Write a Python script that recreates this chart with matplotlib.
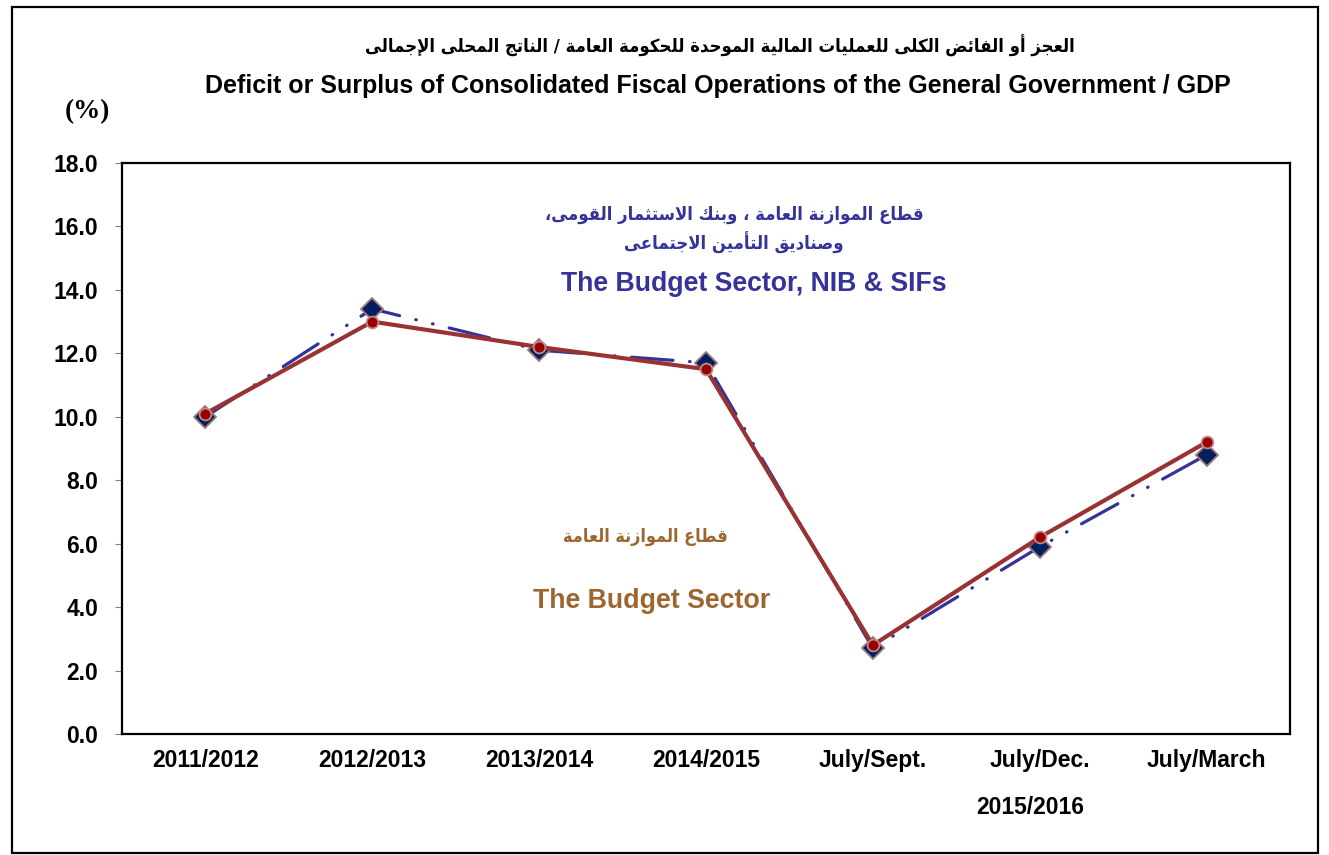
import numpy as np
import matplotlib
matplotlib.use("Agg")
import matplotlib.pyplot as plt
from matplotlib.patches import Rectangle

# Data
categories = ["2011/2012", "2012/2013", "2013/2014", "2014/2015",
              "July/Sept.", "July/Dec.", "July/March"]
budget_nib_sifs = [10.0, 13.4, 12.1, 11.7, 2.7, 5.9, 8.8]
budget_sector = [10.1, 13.0, 12.2, 11.5, 2.8, 6.2, 9.2]
yticks = [0, 2, 4, 6, 8, 10, 12, 14, 16, 18]

title_ar = "العجز أو الفائض الكلى للعمليات المالية الموحدة للحكومة العامة / الناتج المحلى الإجمالى"
title_en = "Deficit or Surplus of Consolidated Fiscal Operations of the General Government / GDP"
blue_ar1 = "قطاع الموازنة العامة ، وبنك الاستثمار القومى،"
blue_ar2 = "وصناديق التأمين الاجتماعى"
blue_en = "The Budget Sector, NIB & SIFs"
brown_ar = "قطاع الموازنة العامة"
brown_en = "The Budget Sector"

# small arabic shaper (presentation forms, visual order)
DUAL = {'ب': 0xFE8F, 'ت': 0xFE95, 'ث': 0xFE99, 'ج': 0xFE9D, 'ح': 0xFEA1, 'خ': 0xFEA5,
        'س': 0xFEB1, 'ش': 0xFEB5, 'ص': 0xFEB9, 'ض': 0xFEBD, 'ط': 0xFEC1, 'ظ': 0xFEC5,
        'ع': 0xFEC9, 'غ': 0xFECD, 'ف': 0xFED1, 'ق': 0xFED5, 'ك': 0xFED9, 'ل': 0xFEDD,
        'م': 0xFEE1, 'ن': 0xFEE5, 'ه': 0xFEE9, 'ي': 0xFEF1, 'ئ': 0xFE89}
RIGHT = {'ا': 0xFE8D, 'أ': 0xFE83, 'إ': 0xFE87, 'آ': 0xFE81, 'ة': 0xFE93, 'د': 0xFEA9,
         'ذ': 0xFEAB, 'ر': 0xFEAD, 'ز': 0xFEAF, 'و': 0xFEED, 'ى': 0xFEEF}
FORMS = {c: tuple(range(s, s + 4)) for c, s in DUAL.items()}
FORMS.update({c: (s, s + 1) for c, s in RIGHT.items()})
LAM_ALEF = {'ا': 0xFEFB, 'أ': 0xFEF7, 'إ': 0xFEF9, 'آ': 0xFEF5}


def shape(text):
    out = []
    prev_joins = False
    i = 0
    while i < len(text):
        c = text[i]
        nxt = text[i + 1] if i + 1 < len(text) else ''
        if c == 'ل' and nxt in LAM_ALEF:
            out.append(chr(LAM_ALEF[nxt] + (1 if prev_joins else 0)))
            prev_joins = False
            i += 2
            continue
        if c not in FORMS:
            out.append(c)
            prev_joins = False
            i += 1
            continue
        f = FORMS[c]
        next_joins = len(f) == 4 and nxt in FORMS
        if prev_joins and next_joins:
            g = f[3]
        elif prev_joins:
            g = f[1]
        elif next_joins:
            g = f[2]
        else:
            g = f[0]
        out.append(chr(g))
        prev_joins = len(f) == 4
        i += 1
    return ''.join(reversed(out))


W, H = 1329, 855
fig = plt.figure(figsize=(W / 100, H / 100), dpi=100)
ax = fig.add_axes([122 / W, 1 - 734 / H, (1290 - 122) / W, (734 - 163) / H])

def px(x, y):
    return x / W, 1 - y / H

x = np.arange(len(categories))
blue, = ax.plot(x, budget_nib_sifs, color='#333399', lw=2.3,
                marker='D', ms=11, mfc='#002060', mec='#a07878', mew=1.3,
                dash_capstyle='round', zorder=3)
blue.set_dashes([13, 5.2, 0.2, 5.2, 0.2, 5.2])
ax.plot(x, budget_sector, color='#993333', lw=3.0, marker='o', ms=8.5,
        mfc='#990000', mec='#c08a8a', mew=1.3, zorder=4)

ax.set_xlim(-0.5, len(categories) - 0.5)
ax.set_ylim(0, 18)
ax.set_yticks(yticks)
ax.set_yticklabels([f"{v:.1f}" for v in yticks])
ax.set_xticks(x)
ax.set_xticklabels(categories)
ax.tick_params(axis='y', direction='out', length=5, color='#808080', pad=12)
ax.tick_params(axis='x', length=0, pad=11)
for lab in ax.get_xticklabels() + ax.get_yticklabels():
    lab.set_fontfamily('Liberation Sans')
    lab.set_fontweight('bold')
    lab.set_fontsize(16.5)
for sp in ax.spines.values():
    sp.set_linewidth(1.6)
    sp.set_color('black')

ar = dict(family='DejaVu Sans', weight='bold', stretch='condensed',
          ha='center', va='center')
en = dict(family='Liberation Sans', weight='bold', ha='center', va='center')

fig.text(*px(720, 46), shape(title_ar), fontsize=13.2, color='black', **ar)
fig.text(*px(718, 86), title_en, fontsize=18, color='black', **en)
fig.text(*px(87, 112), "(%)", fontsize=19.5, family='Liberation Serif',
         weight='bold', ha='center', va='center')
fig.text(*px(1030, 807), "2015/2016", fontsize=16.5, **en)

fig.text(*px(734, 215), shape(blue_ar1), fontsize=13.2, color='#333399', **ar)
fig.text(*px(734, 243), shape(blue_ar2), fontsize=13.2, color='#333399', **ar)
fig.text(*px(754, 284), blue_en, fontsize=19.2, color='#333399', **en)
fig.text(*px(645, 537), shape(brown_ar), fontsize=13, color='#9c6630', **ar)
fig.text(*px(652, 601), brown_en, fontsize=19.3, color='#9c6630', **en)

# outer frame
fig.add_artist(Rectangle((12 / W, 1 - 853 / H), (1318 - 12) / W, (853 - 7) / H,
                         transform=fig.transFigure, fill=False, lw=1.6, ec='black'))

fig.savefig("out.png", dpi=100)
